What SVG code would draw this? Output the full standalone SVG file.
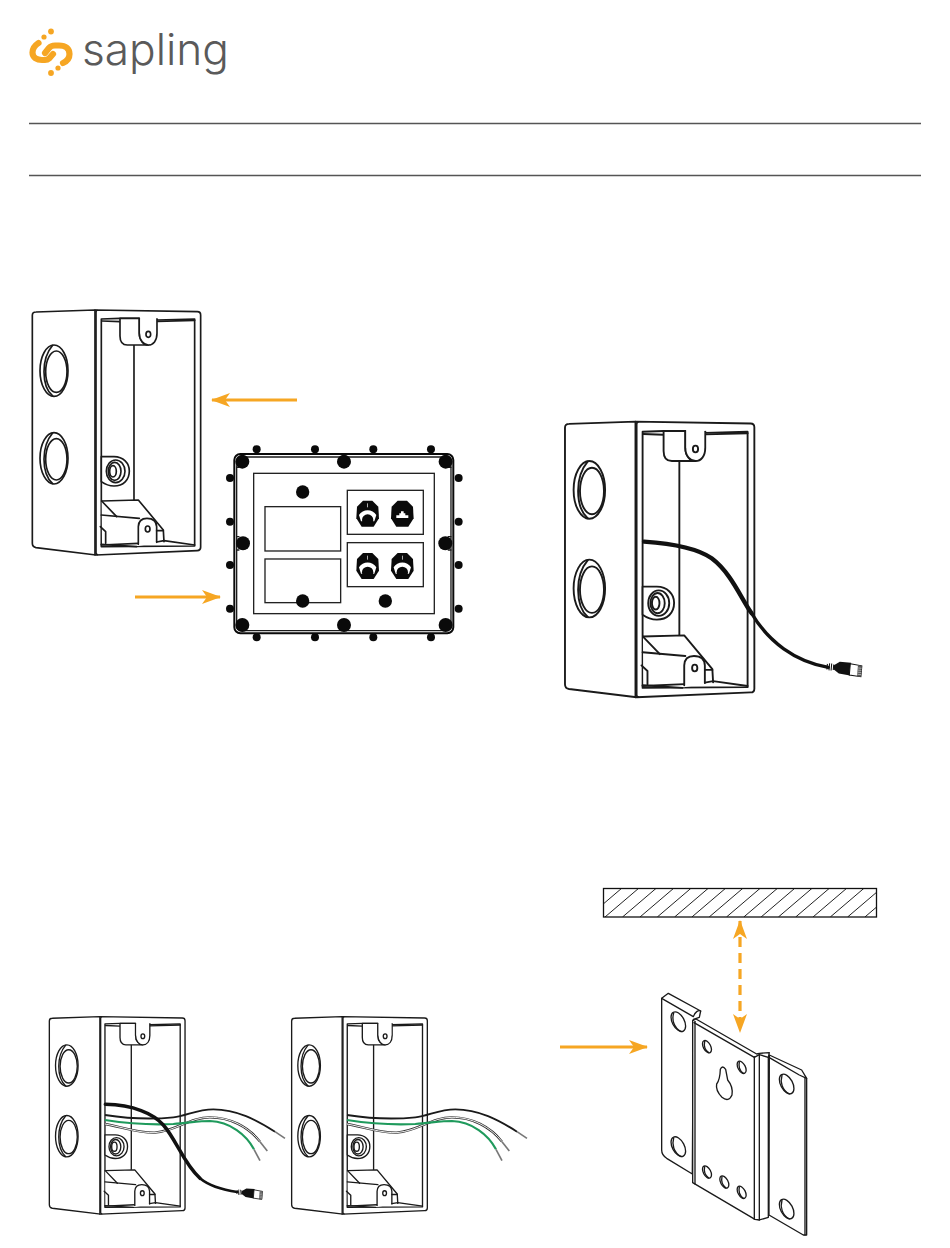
<svg xmlns="http://www.w3.org/2000/svg" xmlns:xlink="http://www.w3.org/1999/xlink" width="950" height="1248" viewBox="0 0 950 1248">
<style>
.ln{fill:none;stroke:#1a1a1a;stroke-width:5;stroke-linecap:round;stroke-linejoin:round}
.wf{fill:#fff;stroke:#1a1a1a;stroke-width:5;stroke-linejoin:round;stroke-linecap:round}
.nf{fill:#fff;stroke:none}
.dot{fill:#0a0a0a}
.rule{stroke:#555;stroke-width:1.5}
.arr{fill:none;stroke:#f6a623;stroke-width:3.2}
.ah{fill:#f6a623}
.cab{fill:none;stroke:#111;stroke-linecap:round}
.wk{fill:none;stroke:#1a1a1a;stroke-width:5.5}
.ww{fill:none;stroke:#fff;stroke-width:2.8}
.wo{fill:none;stroke:#333;stroke-width:7}
.wg{fill:none;stroke:#1f9a5c;stroke-width:6.5}
.tip{fill:none;stroke:#777;stroke-width:5}
.pf{fill:#fff;stroke:#222;stroke-width:4}
.plt{fill:#fff;stroke:#1a1a1a;stroke-width:4;stroke-linejoin:round;stroke-linecap:round}
.pl{fill:none;stroke:#1a1a1a;stroke-width:4;stroke-linejoin:round;stroke-linecap:round}
.lg{fill:none;stroke:#f6a623;stroke-width:6.2;stroke-linecap:round}
.lgd{fill:#f6a623}
</style>
<defs>
<g id="knock">
<ellipse cx="0" cy="0" rx="42" ry="77" class="wf"/>
<ellipse cx="7" cy="3" rx="32" ry="62" class="ln"/>
<path class="ln" d="M-4 -76 C-22 -55 -30 -25 -30 3 C-30 35 -20 62 -4 76"/>
</g>
<g id="box">
<path class="wf" d="M37 46 Q37 36 48 36 L225 30 L532 35 Q542 35 542 45 L542 742 Q542 752 532 752 L228 765 L48 743 Q37 741 37 730 Z"/>
<path class="ln" stroke-width="6" d="M225 30 L225 765"/>
<path class="ln" d="M231 31 Q228 32 228 38 L228 758 Q228 763 232 764"/>
<path class="wf" d="M244 57 L300 55 L411 55 L411 60 L524 57 L524 738 L244 740 Z"/>
<path class="ln" d="M342 135 L342 602"/>
<path class="ln" d="M246 63 L300 65"/>
<path class="ln" d="M412 64 L524 61"/>
<path class="nf" d="M357 38 H414 V56 H357 Z"/>
<path class="wf" d="M300 55 L358 55 L358 100 C358 122 372 135 385 135 L322 135 Q300 135 300 108 Z"/>
<path class="wf" d="M358 55 L358 100 C358 122 372 135 385 135 C400 135 411 122 411 100 L411 57"/>
<path class="nf" d="M361 52 H408 V100 H361 Z"/>
<ellipse cx="385" cy="103" rx="7" ry="9" class="ln"/>
<use xlink:href="#knock" transform="translate(102,212)"/>
<use xlink:href="#knock" transform="translate(102,475)"/>
<path class="wf" d="M244 470 Q262 470 282 470 C310 470 328 490 328 513 C328 540 310 558 282 558 Q262 558 244 545 Z"/>
<ellipse cx="287" cy="514" rx="28" ry="34" class="ln"/>
<ellipse cx="284" cy="514" rx="19" ry="27" class="ln"/>
<ellipse cx="279" cy="514" rx="10" ry="17" class="ln"/>
<path class="nf" d="M245 603 L355 600 L432 690 L432 725 L410 728 L355 738 L246 736 Z"/>
<path class="ln" d="M245 603 L355 600 L430 690 L432 725"/>
<path class="ln" d="M245 603 L290 650"/>
<path class="ln" d="M244 645 L358 655"/>
<path class="ln" d="M241 680 L257 695 L257 730"/>
<path class="ln" stroke-width="6" d="M244 735 L355 730"/>
<path class="ln" d="M244 733 L350 740"/>
<path class="wf" d="M355 733 L355 680 Q356 655 381 655 Q409 655 410 680 L410 727"/>
<ellipse cx="383" cy="687" rx="7" ry="9" class="ln"/>
<path class="ln" d="M410 692 L430 692"/>
<path class="ln" stroke-width="6" d="M410 726 L432 722 L524 735"/>
</g>
<g id="plug">
<path fill="#111" d="M0 -8 h3 v16 h-3z M6 -10 h3 v20 h-3z M12 -10 h3 v20 h-3z M18 -8 h3 v16 h-3z"/>
<path fill="#111" d="M20 -6 L36 -17 L68 -17 L68 19 L36 16 L20 6 Z"/>
<path fill="#fff" stroke="#111" stroke-width="3" d="M66 -14 L99 -11 L99 20 L66 18 Z"/>
<path fill="#555" d="M88 -11 h11 v31 h-11z"/>
<path stroke="#eee" stroke-width="1.5" fill="none" d="M89 -4 H99 M89 2 H99 M89 8 H99 M89 14 H99"/>
</g>
<g id="rj">
<path class="dot" d="M-14 -38 L14 -38 L32 -20 L34 15 L18 40 L-18 40 L-34 15 L-32 -20 Z"/>
</g>
<g id="rjA">
<use xlink:href="#rj"/>
<path fill="#fff" d="M-26 5 C-15 -14 15 -14 26 5 L20 24 L15 24 C13 8 -13 8 -15 24 L-20 24 Z"/>
<circle r="17" cy="20" class="dot"/>
<rect x="-1" y="-30" width="2" height="12" fill="#fff"/>
</g>
<g id="hole">
<ellipse rx="18" ry="32" transform="rotate(-28)" class="pl"/>
<path class="pl" d="M-14 -26 C-20 -6 -14 18 8 30"/>
</g>
<g id="holeS">
<ellipse rx="11" ry="20" transform="rotate(-28)" class="pl"/>
<path class="pl" stroke-width="6" d="M-7 -16 C-10 -2 -6 10 5 18"/>
</g>
<g id="wires">
<path class="wk" d="M195 315 C260 325 340 328 400 322 C440 318 470 298 520 298 C590 298 650 330 705 365"/>
<path class="tip" d="M705 365 L735 385"/>
<path class="wo" d="M195 342 C240 350 300 370 345 368 C410 362 450 322 510 322 C570 322 625 350 660 395"/>
<path class="ww" d="M195 342 C240 350 300 370 345 368 C410 362 450 322 510 322 C570 322 625 350 660 395"/>
<path class="tip" d="M660 395 L682 423"/>
<path class="wg" d="M195 330 C260 340 340 345 400 342 C450 338 480 333 510 333 C570 335 620 375 642 418"/>
<path class="tip" d="M642 418 L660 452"/>
</g>
<marker id="barb" viewBox="0 0 20 14" refX="19" refY="7" markerWidth="20" markerHeight="14" markerUnits="userSpaceOnUse" orient="auto-start-reverse">
<path class="ah" d="M1 0 L20 7 L1 14 L6 7 Z"/>
</marker>
<clipPath id="hatchClip"><rect x="603.5" y="888.5" width="273" height="28.5"/></clipPath>
</defs>
<rect width="950" height="1248" fill="#fff"/>

<g id="logo">
<g transform="translate(1,0)">
<path class="lg" d="M37.5 43 C33 46 31.5 49 31.5 52.5 C31.5 57.5 36 60 41 60 L44 60 Q46.5 60 48 58.5 L52 54"/>
<path class="lg" d="M44 53 L48 48 Q50 45.5 54 45.5 L58 45.5 C65 45.5 68.5 49 68.5 54 C68.5 58 66.5 61 62 63"/>
<circle cx="43" cy="37" class="lgd" r="2.6"/><circle cx="50" cy="31.500" class="lgd" r="2.9"/>
<circle cx="57" cy="68" class="lgd" r="2.6"/><circle cx="50" cy="73" class="lgd" r="2.9"/>
</g>
<text x="82" y="65" font-family="Inter,'Open Sans',sans-serif" font-weight="300" font-size="44" fill="#5a5a5a" textLength="147" lengthAdjust="spacingAndGlyphs">sapling</text>
</g>

<g id="header-rules">
<line class="rule" x1="29" y1="123.500" x2="921" y2="123.500"/>
<line class="rule" x1="29" y1="175.500" x2="921" y2="175.500"/>
</g>

<g id="box-a" transform="translate(20,300) scale(0.3333)"><use xlink:href="#box"/></g>

<g id="panel" transform="translate(215,435) scale(0.3333)">
<g class="dot">
<circle cx="125" cy="43" r="12"/><circle cx="300" cy="43" r="12"/><circle cx="475" cy="43" r="12"/><circle cx="648" cy="43" r="12"/>
<circle cx="125" cy="607" r="12"/><circle cx="300" cy="607" r="12"/><circle cx="475" cy="607" r="12"/><circle cx="648" cy="607" r="12"/>
<circle cx="45" cy="129" r="12"/><circle cx="45" cy="260" r="12"/><circle cx="45" cy="390" r="12"/><circle cx="45" cy="521" r="12"/>
<circle cx="731" cy="129" r="12"/><circle cx="731" cy="260" r="12"/><circle cx="731" cy="390" r="12"/><circle cx="731" cy="521" r="12"/>
</g>
<rect x="58" y="57" width="657" height="538" rx="18" fill="#fff" stroke="#0a0a0a" stroke-width="6"/>
<path class="pl" d="M65 97 L65 570 Q65 587 80 587 L675 587 Q708 587 708 570 L708 97 Q708 66 675 66 L80 66 Q65 66 65 97"/>
<path class="pl" d="M65 97 H72 M65 345 H72 M65 305 H72 M708 97 H700 M708 345 H700 M708 305 H700"/>
<g class="dot">
<circle cx="82" cy="80" r="21"/><circle cx="692" cy="80" r="21"/><circle cx="82" cy="570" r="21"/><circle cx="692" cy="570" r="21"/>
<circle cx="387" cy="80" r="21"/><circle cx="387" cy="570" r="21"/><circle cx="84" cy="325" r="21"/><circle cx="691" cy="325" r="21"/>
</g>
<rect x="116" y="115" width="542" height="421" class="pf"/>
<rect x="150" y="215" width="227" height="133" class="pf"/>
<rect x="150" y="372" width="227" height="131" class="pf"/>
<rect x="397" y="166" width="228" height="132" class="pf"/>
<rect x="397" y="323" width="228" height="132" class="pf"/>
<g class="dot">
<circle cx="263" cy="171" r="20"/><circle cx="263" cy="498" r="20"/><circle cx="511" cy="498" r="20"/>
</g>
<use xlink:href="#rjA" transform="translate(458,235)"/>
<g transform="translate(562,235)"><use xlink:href="#rj"/><path fill="#fff" d="M-18 14 L-18 6 L-9 6 L-9 0 L-4 0 L-4 -6 L4 -6 L4 0 L9 0 L9 6 L18 6 L18 14 Z"/></g>
<use xlink:href="#rjA" transform="translate(458,392)"/>
<use xlink:href="#rjA" transform="translate(562,392)"/>
</g>

<g id="box-b">
<g transform="translate(551.1,410.4) scale(0.375)"><use xlink:href="#box"/></g>
<g transform="translate(555,410) scale(0.3333)">
<path class="cab" stroke-width="13" d="M267 395 C340 400 420 410 470 445 C530 490 560 570 590 610"/>
<path class="cab" stroke-width="10" d="M590 610 C640 695 720 755 820 772"/>
<use xlink:href="#plug" transform="translate(815,770) rotate(5) scale(1.06)"/>
</g>
</g>

<g id="box-c">
<g transform="translate(39.4,1008.6) scale(0.2687)"><use xlink:href="#box"/></g>
<g transform="translate(40,1010) scale(0.3333)">
<use xlink:href="#wires"/>
<path class="cab" stroke-width="10.500" d="M196 283 C280 285 340 310 370 345 C410 390 430 460 480 505"/>
<path class="cab" stroke-width="8" d="M480 505 C510 530 550 540 592 546"/>
<use xlink:href="#plug" transform="translate(590,546) rotate(5) scale(0.78)"/>
</g>
</g>

<g id="box-d">
<g transform="translate(281.7,1008.6) scale(0.2687)"><use xlink:href="#box"/></g>
<g transform="translate(282,1010) scale(0.3333)"><use xlink:href="#wires"/></g>
</g>

<g id="wall">
<g clip-path="url(#hatchClip)" stroke="#222" stroke-width="1" fill="none">
<path d="M588 917 L622 888 M605 917 L639 888 M622.500 917 L656.500 888 M640 917 L674 888 M657.300 917 L691.300 888 M674.600 917 L708.600 888 M691.900 917 L725.900 888 M709.200 917 L743.200 888 M726.500 917 L760.500 888 M743.800 917 L777.800 888 M761.100 917 L795.100 888 M778.400 917 L812.400 888 M795.700 917 L829.700 888 M813 917 L847 888 M830.300 917 L864.300 888 M847.600 917 L881.600 888 M864.900 917 L898.900 888"/>
</g>
<rect x="603.500" y="888.500" width="273" height="28.500" fill="none" stroke="#111" stroke-width="1.300"/>
</g>

<g id="bracket" transform="translate(640,980) scale(0.3333)">
<path class="plt" d="M65 55 L85 40 L182 93 L178 112 L160 118 L157 582 L80 535 Q65 525 65 510 Z"/>
<path class="pl" d="M65 55 L160 110 C165 95 175 90 182 93"/>
<path class="plt" d="M388 225 L485 270 L500 295 L500 765 L490 765 L387 705 Z"/>
<path class="pl" d="M388 233 L478 285 L500 295"/>
<path class="pl" d="M495 292 L495 765"/>
<path class="plt" d="M158 122 L168 117 L350 222 L358 220 L388 218 L385 232 L385 712 L358 720 L345 718 L158 608 Z"/>
<path class="pl" d="M162 128 L343 232 L358 224 L385 232"/>
<path class="pl" d="M165 124 L165 612"/>
<path class="pl" d="M343 230 L343 718 M358 224 L358 720"/>
<use xlink:href="#hole" transform="translate(115,125)"/>
<use xlink:href="#hole" transform="translate(115,500)"/>
<use xlink:href="#hole" transform="translate(440,312)"/>
<use xlink:href="#hole" transform="translate(440,687)"/>
<use xlink:href="#holeS" transform="translate(201,200)"/>
<use xlink:href="#holeS" transform="translate(201,576)"/>
<use xlink:href="#holeS" transform="translate(305,262)"/>
<use xlink:href="#holeS" transform="translate(305,637)"/>
<use xlink:href="#holeS" transform="translate(253,606)"/>
<path class="pl" d="M241 268 Q247 254 257 268 L263 300 Q280 320 276 345 Q266 368 246 352 Q226 332 230 312 Q240 300 241 268 Z"/>
</g>

<g id="connectors">
<line class="arr" x1="297" y1="400" x2="212" y2="400" marker-end="url(#barb)"/>
<line class="arr" x1="135" y1="597" x2="220" y2="597" marker-end="url(#barb)"/>
<line class="arr" x1="560" y1="1047" x2="647" y2="1047" marker-end="url(#barb)"/>
<line class="arr" x1="740" y1="921" x2="740" y2="1032" stroke-dasharray="10 6" marker-start="url(#barb)" marker-end="url(#barb)"/>
</g>
</svg>
